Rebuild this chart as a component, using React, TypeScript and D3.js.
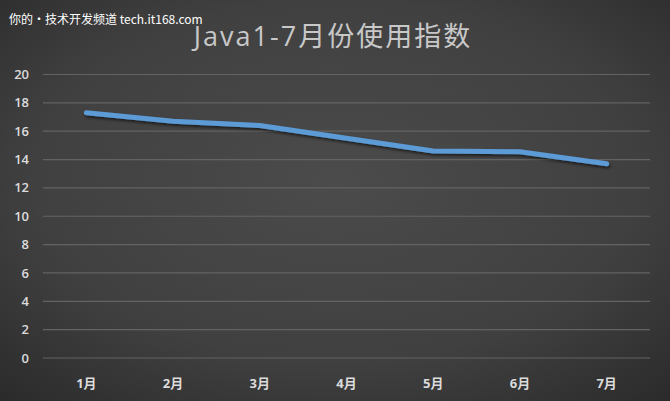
import React from "react";
import * as d3 from "d3";

const months = ["1月", "2月", "3月", "4月", "5月", "6月", "7月"];
const values = [17.3, 16.7, 16.4, 15.5, 14.6, 14.55, 13.7];
const yTicks = [0, 2, 4, 6, 8, 10, 12, 14, 16, 18, 20];
const title = "Java1-7月份使用指数";
const watermark = "你的•技术开发频道 tech.it168.com";

export default function App() {
  const W = 670, H = 401;
  const left = 43, right = 650, top = 74.5, bottom = 358;
  const x = d3.scaleBand<string>().domain(months).range([left, right]);
  const y = d3.scaleLinear().domain([0, 20]).range([bottom, top]);
  const line = d3.line<number>()
    .x((_, i) => (x(months[i]) as number) + x.bandwidth() / 2)
    .y((d) => y(d));
  const font = "'Open Sans', 'Noto Sans CJK SC', sans-serif";
  return (
    <svg width={W} height={H} style={{ position: "absolute", left: 0, top: 0 }}>
      <defs>
        <radialGradient id="bg" cx="0.5" cy="0.45" r="0.75">
          <stop offset="0" stopColor="#4b4b4b" />
          <stop offset="0.6" stopColor="#404040" />
          <stop offset="1" stopColor="#2a2a2a" />
        </radialGradient>
        <filter id="sh" x="-10%" y="-50%" width="120%" height="200%">
          <feDropShadow dx="1" dy="2" stdDeviation="1.5" floodColor="#000" floodOpacity="0.6" />
        </filter>
      </defs>
      <rect width={W} height={H} fill="url(#bg)" />
      {yTicks.map((t) => (
        <g key={t}>
          <line x1={left} x2={right} y1={y(t)} y2={y(t)} stroke="#636363" strokeWidth={1.2} />
          <text x={29} y={y(t)} dy="0.35em" textAnchor="end" fill="#dcdcdc" fontSize={13} fontWeight="600" fontFamily={font}>
            {t}
          </text>
        </g>
      ))}
      {months.map((m) => (
        <text key={m} x={(x(m) as number) + x.bandwidth() / 2} y={383} dy="0.35em" textAnchor="middle" fill="#dcdcdc" fontSize={13} fontWeight="bold" fontFamily={font}>
          {m}
        </text>
      ))}
      <path d={line(values) || ""} fill="none" stroke="#5b9bd5" strokeWidth={5} strokeLinecap="round" strokeLinejoin="round" filter="url(#sh)" />
      <text x={333} y={37} dy="0.35em" textAnchor="middle" fill="#c8c8c8" fontSize={27} fontFamily={font} letterSpacing={2}>
        {title}
      </text>
      <text x={9} y={20} dy="0.35em" fill="#ffffff" fontSize={12} fontFamily="'Noto Sans CJK SC', 'DejaVu Sans Mono', monospace">
        {watermark}
      </text>
    </svg>
  );
}
